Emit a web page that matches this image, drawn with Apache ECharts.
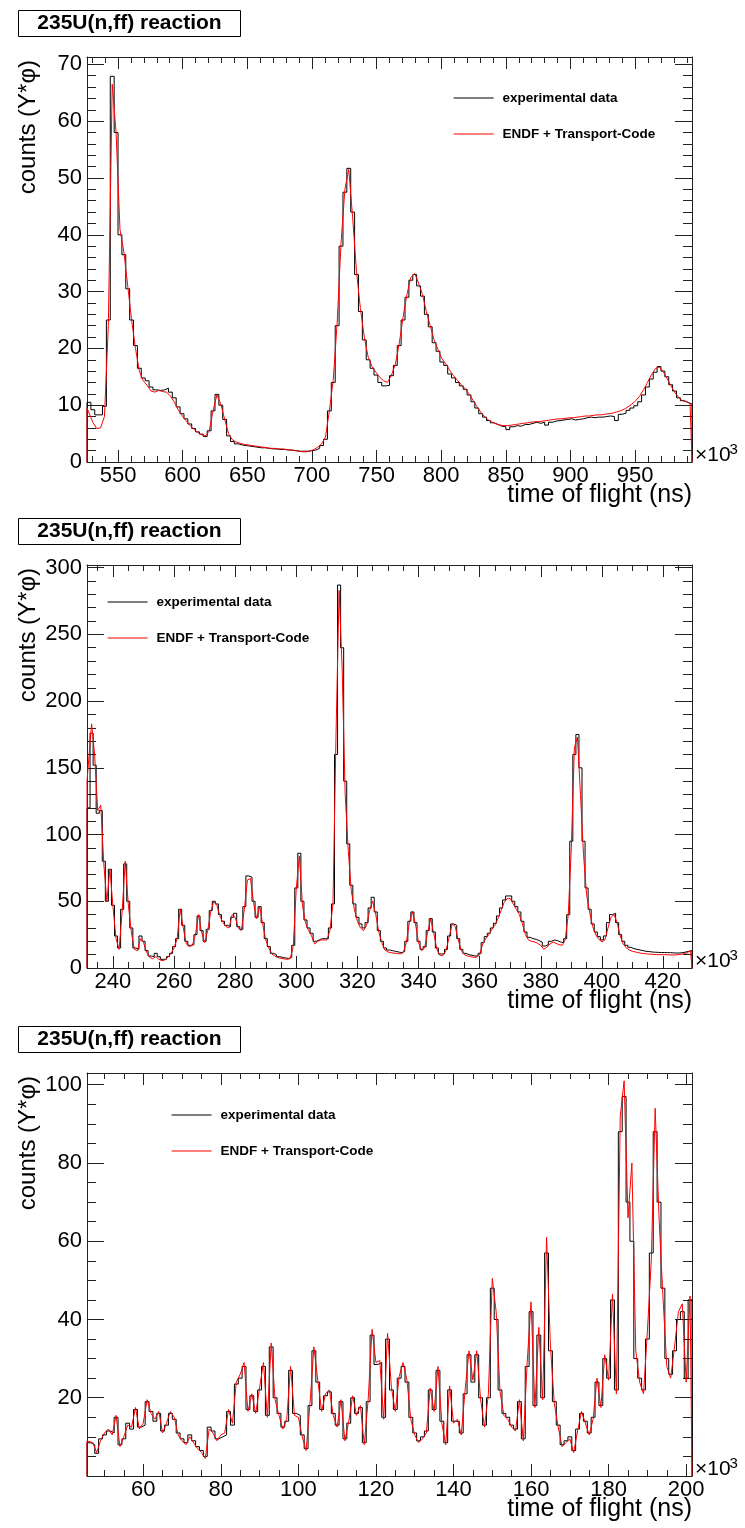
<!DOCTYPE html>
<html><head><meta charset="utf-8">
<script src="https://cdn.jsdelivr.net/npm/echarts@6/dist/echarts.min.js"></script>
<style>html,body{margin:0;padding:0;background:#fff}#c{width:745px;height:1528px}</style>
</head><body><div id="c"></div>
<script>
const FONT = "'Liberation Sans', Arial, Helvetica, sans-serif";
const NAME_EXP = 'experimental data';
const NAME_SIM = 'ENDF + Transport-Code';
const TITLE = '235U(n,ff) reaction';
const X_TITLE = 'time of flight (ns)';
const Y_TITLE = 'counts (Y*\u03c6)';

// ---------- panel 1 (bins of 3, starting at 526 x10^3 ns) ----------
const p1BinStart = 526, p1BinWidth = 3;
const p1X = [526, 994], p1Y = [0, 71.3], p1XStep = 50, p1YStep = 10;
const p1Exp = [
 10.5, 9.2, 8.3, 8.3, 9.8, 25, 67.9, 58, 40, 36.5,
 30.5, 25, 20.5, 16.5, 14.8, 14.3, 13.2, 12.7, 12.6, 12.7,
 13.0, 12.3, 11.3, 9.7, 8.5, 7.6, 6.7, 5.9, 5.3, 4.9,
 4.5, 5.5, 9.0, 11.9, 10.0, 7.5, 4.6, 3.6, 3.2, 3.0,
 2.9, 2.8, 2.7, 2.6, 2.5, 2.5, 2.4, 2.3, 2.3, 2.2,
 2.2, 2.1, 2.1, 2.0, 1.9, 1.9, 1.9, 2.0, 2.1, 2.4,
 2.9, 4.0, 9.0, 14, 24, 38, 47.5, 51.7, 44, 33,
 26.5, 21.5, 18.0, 16.5, 15.3, 14.0, 13.4, 13.5, 15.2, 17.0,
 20.5, 25.0, 29.0, 32.0, 33.0, 31.0, 29.2, 26.0, 23.8, 21.0,
 19.5, 17.6, 17.0, 15.5, 14.8, 14.0, 13.4, 12.8, 11.8, 10.6,
 9.5, 8.5, 7.9, 7.3, 6.9, 6.6, 6.3, 6.2, 5.7, 6.2,
 6.4, 6.3, 6.6, 6.6, 6.8, 7.0, 6.8, 7.0, 6.5, 7.0,
 7.2, 7.3, 7.4, 7.5, 7.6, 7.4, 7.5, 7.6, 7.8, 7.9,
 7.8, 7.9, 7.9, 8.0, 8.1, 8.0, 7.3, 8.4, 8.6, 9.1,
 9.5, 9.9, 10.6, 11.8, 13.2, 14.6, 15.8, 16.8, 16.0, 15.0,
 13.6, 12.5, 11.3, 10.8, 10.5, 10.2
];
const p1Sim = [
 9.5, 7.0, 5.9, 6.0, 8.0, 24, 66.5, 58, 41, 37,
 31, 25, 20, 16, 14.3, 13.5, 12.5, 12.3, 12.6, 12.4,
 12.3, 11.6, 10.6, 9.2, 8.2, 7.3, 6.5, 5.8, 5.2, 4.8,
 4.6, 5.4, 9.0, 11.8, 10.2, 7.5, 5.0, 3.9, 3.5, 3.3,
 3.1, 3.0, 2.9, 2.8, 2.7, 2.6, 2.5, 2.4, 2.4, 2.3,
 2.3, 2.2, 2.1, 2.0, 1.9, 1.8, 1.8, 1.9, 2.2, 2.6,
 3.2, 4.4, 9.0, 14.5, 24.5, 38.5, 48, 51.5, 43, 33.5,
 27, 22, 18.5, 16.8, 15.8, 14.9, 14.3, 14.0, 15.3, 17.2,
 20.8, 25.5, 29.5, 32.5, 33.2, 31.5, 29.5, 26.5, 24.0, 21.5,
 19.8, 18.2, 17.3, 16.2, 15.2, 14.4, 13.6, 12.9, 12.0, 10.9,
 9.8, 8.8, 8.0, 7.4, 7.0, 6.7, 6.5, 6.4, 6.4, 6.5,
 6.6, 6.7, 6.8, 6.9, 7.0, 7.1, 7.1, 7.2, 7.3, 7.4,
 7.5, 7.6, 7.6, 7.7, 7.8, 7.8, 7.9, 8.0, 8.1, 8.1,
 8.2, 8.3, 8.3, 8.4, 8.5, 8.6, 8.8, 9.0, 9.3, 9.7,
 10.2, 10.8, 11.6, 12.7, 14.0, 15.3, 16.4, 16.7, 16.0, 14.8,
 13.5, 12.3, 11.4, 10.8, 10.6, 10.3
];

// ---------- panel 2 (bins of 1, starting at 231.5 x10^3 ns) ----------
const p2BinStart = 231.5, p2BinWidth = 1;
const p2X = [231.5, 429.5], p2Y = [0, 302], p2XStep = 20, p2YStep = 50;
const p2Exp = [
 120, 176, 152, 116, 118, 80, 50, 74, 47, 24,
 15, 44, 78, 50, 30, 15, 14, 24, 20, 13,
 9, 8.5, 11, 8.5, 6.5, 6.5, 8.5, 11, 16, 22,
 44, 32, 20, 17, 17.5, 25, 39, 28, 20, 29,
 43, 50, 48, 40, 35, 32, 31, 38, 41, 31,
 29, 46, 69, 68, 50, 38, 46, 34, 22, 16,
 11, 10, 8.5, 8, 7.5, 7.2, 8, 17, 60, 86,
 50, 36, 30, 26, 20, 21, 22, 22, 22, 30,
 48, 160, 287, 240, 140, 93, 62, 48, 38, 33,
 30, 34, 45, 53, 42, 28, 20, 15, 13.5, 13,
 12.5, 12, 11.5, 12.5, 20, 35, 42, 34, 20, 14,
 16, 28, 37, 27, 15, 10.5, 10.5, 14, 24, 33,
 32, 22, 14, 11, 10, 9.5, 9, 9, 11, 19,
 23.5, 26, 30, 33.5, 39, 45, 51, 54, 54, 50,
 46, 42, 35, 27, 23, 22, 21.5, 20.5, 19.5, 16.5,
 17.5, 20, 21, 20.5, 19.5, 19, 22, 40, 95, 160,
 175, 150, 95, 60, 44, 33, 27, 23.5, 21, 24,
 34, 40, 41, 34, 25, 20, 17, 15.5, 14.5, 14,
 13.5, 13, 12.5, 12.3, 12, 11.8, 11.7, 11.6, 11.6, 11.5,
 11.5, 11.3, 11.2, 11.3, 11.5, 12, 12.5, 13
];
const p2Sim = [
 140, 183, 160, 118, 122, 78, 50, 74, 46, 22,
 14, 42, 80, 48, 27, 14, 13, 22, 19, 12,
 8, 7, 8.5, 6.5, 5.5, 6, 8, 11, 15, 22,
 44, 30, 18, 16, 17, 25, 40, 27, 19, 28,
 42, 50, 47, 39, 34, 31, 30, 40, 38, 30,
 28, 44, 66, 67, 49, 37, 46, 33, 21, 15,
 10.5, 9, 7.8, 7.2, 6.8, 6.5, 7, 16, 60, 84,
 47, 34, 28, 24, 18, 20, 21, 21, 21, 28,
 48, 175, 283, 225, 130, 88, 58, 44, 35, 30,
 28, 32, 43, 50, 40, 27, 19, 13.5, 12, 11.5,
 11, 11, 10.5, 11.5, 19, 34, 42, 33, 19, 13,
 15, 27, 37, 26, 14, 9.5, 9.5, 13, 23, 33,
 31, 21, 13, 10, 9, 8.5, 8, 8, 10, 18,
 22, 25, 29, 32, 37, 43, 49, 52, 52, 48,
 44, 40, 33, 25, 21, 20, 19.5, 18.5, 17, 14,
 15.5, 18, 19.5, 18.5, 17.5, 17, 21, 40, 90, 165,
 173, 130, 85, 55, 42, 31, 25, 21.5, 19.5, 21,
 30, 38, 40, 34, 24, 18, 15, 13.5, 12.5, 12,
 11.5, 11, 10.8, 10.5, 10.3, 10.2, 10, 10, 10, 10,
 9.8, 9.8, 9.8, 10, 10.3, 10.8, 11.5, 13
];

// ---------- panel 3 (bins of 1, starting at 45.5 x10^3 ns) ----------
const p3BinStart = 45.5, p3BinWidth = 1;
const p3X = [45.5, 201.5], p3Y = [0, 103], p3XStep = 20, p3YStep = 20;
const p3Exp = [
 8.5, 8.0, 5.8, 9.5, 10.5, 11.5, 11.0, 15.0, 8.0, 9.5,
 13.5, 12.0, 17.0, 12.5, 13.0, 19.0, 16.5, 14.0, 16.0, 11.5,
 13.0, 16.0, 14.5, 11.0, 9.5, 8.5, 10.5, 9.0, 7.5, 6.5,
 5.0, 12.5, 11.5, 9.5, 10.0, 10.5, 16.5, 13.0, 23.5, 25.0,
 28.0, 17.0, 20.5, 16.5, 22.0, 28.0, 15.5, 33.0, 20.0, 16.0,
 12.5, 14.0, 27.0, 16.0, 15.5, 10.5, 7.0, 18.0, 32.0, 24.0,
 17.0, 20.5, 21.5, 16.0, 13.0, 19.0, 9.5, 13.5, 20.0, 16.0,
 17.5, 8.5, 19.0, 36.0, 28.5, 29.0, 15.0, 35.0, 22.0, 17.0,
 25, 28, 24, 15, 11, 9, 10, 11.5, 22, 17,
 27, 14, 8.5, 22, 14, 14, 11, 21, 31, 24,
 31, 20, 13, 20, 48, 40, 22, 16, 15, 13,
 12, 19, 9.5, 28, 42, 18, 36, 20, 57, 32,
 19, 13, 8, 9, 10, 6.5, 12, 16, 14, 11,
 15, 24, 18, 30, 25, 45, 22, 88, 97, 70,
 60, 30, 25, 22, 35, 57, 88, 70, 48, 30,
 26, 32, 40, 42, 25, 45
];
const p3Sim = [
 9, 8.5, 6.0, 9.0, 11, 12, 10.5, 15.5, 7.5, 10,
 13, 12.5, 17.5, 12, 13.5, 19.5, 16, 14.5, 16.5, 11,
 13.5, 16.5, 15, 10.5, 9, 8, 10, 8.5, 7, 6,
 4.5, 12, 11, 9, 10.5, 11, 17, 13.5, 24, 26,
 29, 16.5, 21, 16, 22.5, 29, 15, 34, 19.5, 15.5,
 12, 14.5, 28, 15.5, 15, 10, 6.5, 18.5, 33, 24.5,
 16.5, 21, 22, 15.5, 12.5, 19.5, 9, 14, 20.5, 15.5,
 18, 8, 19.5, 37.5, 29, 29.5, 14.5, 36.5, 22.5, 16.5,
 25.5, 29, 24.5, 14.5, 10.5, 8.5, 9.5, 11, 22.5, 16.5,
 28, 13.5, 8, 23, 13.5, 14.5, 10.5, 22, 32, 24.5,
 32, 19.5, 12.5, 21, 50.5, 42, 21.5, 15.5, 14.5, 12.5,
 11.5, 19.5, 9, 29, 44.5, 17.5, 38, 19.5, 61, 33,
 18.5, 12.5, 7.5, 8.5, 9.5, 6, 11.5, 16.5, 13.5, 10.5,
 14.5, 25, 17.5, 31, 24.5, 46.5, 21, 92, 101, 66,
 80, 32, 24, 21, 37, 55, 94, 66, 46, 28,
 25, 33, 42, 44, 24, 46
];

// ---------- helpers ----------
// step histogram outline (bin edges)
function hist(start, width, vals) {
  const pts = [[start, 0]];
  vals.forEach((v, i) => pts.push([start + i * width, v]));
  const end = start + vals.length * width;
  pts.push([end, vals[vals.length - 1]]);
  pts.push([end, 0]);
  return pts;
}
// finely binned histogram drawn through bin centres
function curve(start, width, vals) {
  const pts = [[start, 0], [start, vals[0]]];
  vals.forEach((v, i) => pts.push([start + (i + 0.5) * width, v]));
  const end = start + vals.length * width;
  pts.push([end, vals[vals.length - 1]]);
  pts.push([end, 0]);
  return pts;
}
const panels = [
  {top: 57,   height: 405, x: p1X, y: p1Y, xs: p1XStep, ys: p1YStep, xMinor: 5, yMinor: 5, show0: true,
   exp: hist(p1BinStart, p1BinWidth, p1Exp), sim: curve(p1BinStart, p1BinWidth, p1Sim), legend: [453, 91]},
  {top: 565,  height: 403, x: p2X, y: p2Y, xs: p2XStep, ys: p2YStep, xMinor: 4, yMinor: 5, show0: true,
   exp: hist(p2BinStart, p2BinWidth, p2Exp), sim: curve(p2BinStart, p2BinWidth, p2Sim), legend: [107, 595]},
  {top: 1073, height: 403, x: p3X, y: p3Y, xs: p3XStep, ys: p3YStep, xMinor: 4, yMinor: 4, show0: false,
   exp: hist(p3BinStart, p3BinWidth, p3Exp), sim: curve(p3BinStart, p3BinWidth, p3Sim), legend: [171, 1108]}
];
const AX = '#222';
const grids = [], xAxes = [], yAxes = [], series = [], legends = [], graphics = [];
panels.forEach((p, g) => {
  grids.push({left: 87, width: 605, top: p.top, height: p.height});
  const fmt = step => v => (Math.abs(v / step - Math.round(v / step)) < 1e-6 ? String(Math.round(v)) : '');
  ['bottom', 'top'].forEach(pos => xAxes.push({
    type: 'value', gridIndex: g, position: pos, min: p.x[0], max: p.x[1],
    minInterval: p.xs, maxInterval: p.xs, splitNumber: Math.round((p.x[1] - p.x[0]) / p.xs),
    axisLine: {show: true, onZero: false, lineStyle: {color: AX, width: 1}},
    axisTick: {show: true, inside: true, length: 12, lineStyle: {color: AX, width: 1}},
    minorTick: {show: true, splitNumber: p.xMinor, length: 6, lineStyle: {color: AX, width: 1}},
    splitLine: {show: false}, minorSplitLine: {show: false},
    axisLabel: {show: pos === 'bottom', interval: 0, margin: 3, color: '#000', fontSize: 22, fontFamily: FONT,
      showMinLabel: false, showMaxLabel: false, formatter: fmt(p.xs)}
  }));
  ['left', 'right'].forEach(pos => yAxes.push({
    type: 'value', gridIndex: g, position: pos, min: p.y[0], max: p.y[1], interval: p.ys,
    axisLine: {show: true, onZero: false, lineStyle: {color: AX, width: 1}},
    axisTick: {show: true, inside: true, length: 17, lineStyle: {color: AX, width: 1}},
    minorTick: {show: true, splitNumber: p.yMinor, length: 9, lineStyle: {color: AX, width: 1}},
    splitLine: {show: false}, minorSplitLine: {show: false},
    axisLabel: {show: pos === 'left', margin: 5, color: '#000', fontSize: 22, fontFamily: FONT,
      showMinLabel: p.show0, showMaxLabel: false, formatter: fmt(p.ys)}
  }));
  series.push({name: NAME_EXP, type: 'line', step: 'end', xAxisIndex: g * 2, yAxisIndex: g * 2,
    data: p.exp, symbol: 'none', showSymbol: false, z: 2, animation: false, silent: true,
    lineStyle: {color: '#000', width: 1}, itemStyle: {color: '#000'}});
  series.push({name: NAME_SIM, type: 'line', xAxisIndex: g * 2, yAxisIndex: g * 2,
    data: p.sim, symbol: 'none', showSymbol: false, z: 3, animation: false, silent: true,
    lineStyle: {color: '#ff0000', width: 1}, itemStyle: {color: '#ff0000'}});
  legends.push({data: [NAME_EXP, NAME_SIM], orient: 'vertical', left: p.legend[0], top: p.legend[1],
    padding: 0, itemWidth: 40, itemHeight: 16, itemGap: 22, selectedMode: false,
    itemStyle: {opacity: 0}, lineStyle: {width: 1.2},
    textStyle: {fontSize: 13.5, fontWeight: 'bold', fontFamily: FONT, color: '#000', padding: [0, 0, 0, 4]}});
  const off = g * 508;
  const bottom = p.top + p.height;
  graphics.push({type: 'rect', shape: {x: 18.5, y: 10.5 + off, width: 222, height: 26},
    style: {fill: '#fff', stroke: '#000', lineWidth: 1}});
  graphics.push({type: 'text', x: 129.5, y: 23.5 + off, style: {text: TITLE, fontSize: 21, fontWeight: 'bold',
    fontFamily: FONT, fill: '#000', textAlign: 'center', textVerticalAlign: 'middle'}});
  graphics.push({type: 'text', x: 28, y: p.top + 3, rotation: Math.PI / 2, style: {text: Y_TITLE, fontSize: 24,
    fontFamily: FONT, fill: '#000', textAlign: 'right', textVerticalAlign: 'middle'}});
  graphics.push({type: 'text', x: 692, y: bottom + 33, style: {text: X_TITLE, fontSize: 25,
    fontFamily: FONT, fill: '#000', textAlign: 'right', textVerticalAlign: 'middle'}});
  graphics.push({type: 'text', x: 695, y: bottom + 4, style: {text: '\u00d710', fontSize: 21,
    fontFamily: FONT, fill: '#000', textAlign: 'left', textVerticalAlign: 'bottom'}});
  graphics.push({type: 'text', x: 729.5, y: bottom - 5, style: {text: '3', fontSize: 15,
    fontFamily: FONT, fill: '#000', textAlign: 'left', textVerticalAlign: 'bottom'}});
});

const chart = echarts.init(document.getElementById('c'), null, {renderer: 'canvas'});
chart.setOption({
  backgroundColor: '#fff',
  animation: false,
  grid: grids, xAxis: xAxes, yAxis: yAxes, series: series, legend: legends, graphic: graphics
});
</script></body></html>
